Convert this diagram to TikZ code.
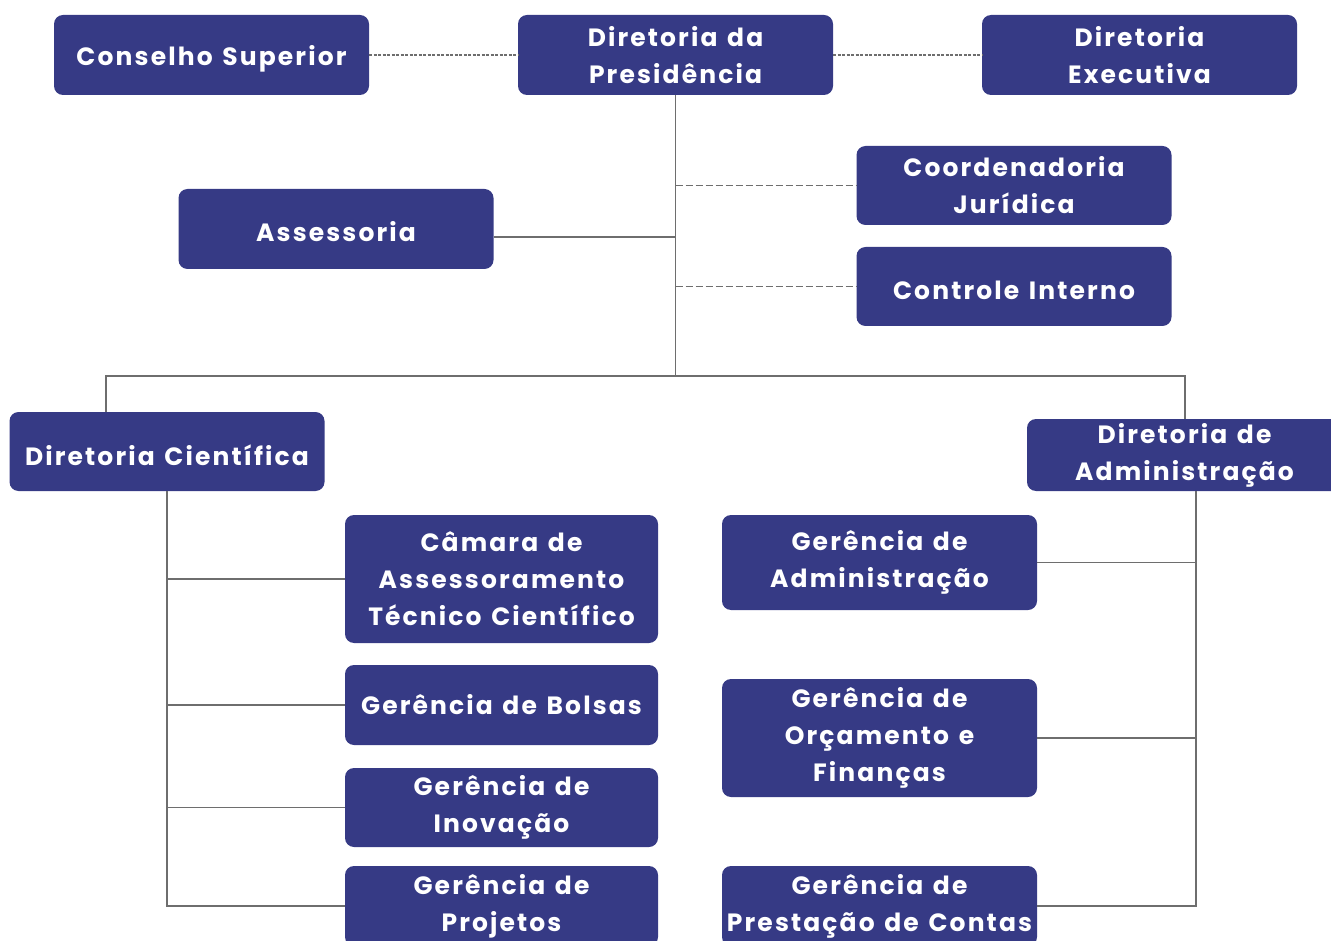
\documentclass[tikz,border=0pt]{standalone}
\usepackage{fontspec}
\newfontfamily\boxfont{Poppins}[LetterSpace=8.5,WordSpace=1.3]
\definecolor{boxblue}{RGB}{54,58,133}
\definecolor{linegray}{RGB}{110,110,110}
\newcommand{\lowtext}[2]{\raisebox{-#1}[\height][\depth]{#2}}
\begin{document}
\begin{tikzpicture}[x=1pt,y=-1pt,
  orgbox/.style={fill=boxblue, rounded corners=9pt, minimum width=315pt, minimum height=80pt,
    inner sep=0pt, text=white, align=center, font=\boxfont\bfseries\fontsize{25}{37}\selectfont},
  conn/.style={draw=linegray, line width=1.3pt},
  fdash/.style={conn, dash pattern=on 3pt off 1.5pt},
  ldash/.style={conn, dash pattern=on 7pt off 3pt}]
\useasboundingbox (0,0) rectangle (1331,941);
\node[orgbox] (cs) at (211.5,55) {\lowtext{4pt}{Conselho Superior}};
\node[orgbox] (pres) at (675.5,55) {Diretoria da\\Presidência};
\node[orgbox] (exe) at (1139.5,55) {Diretoria\\Executiva};
\node[orgbox, minimum height=79pt] (coord) at (1014,185.5) {Coordenadoria\\Jurídica};
\node[orgbox] (ass) at (336,229) {\lowtext{3pt}{Assessoria}};
\node[orgbox, minimum height=79pt] (ci) at (1014,286.5) {\lowtext{3.5pt}{Controle Interno}};
\node[orgbox, minimum height=79pt] (dc) at (167,451.5) {\lowtext{3.5pt}{Diretoria Científica}};
\node[orgbox, minimum height=72pt] (da) at (1184.5,455) {Diretoria de\\Administração};
\node[orgbox, minimum height=128pt, minimum width=313pt] (cam) at (501.5,579) {Câmara de\\Assessoramento\\Técnico Científico};
\node[orgbox, minimum width=313pt] (bol) at (501.5,705) {Gerência de Bolsas};
\node[orgbox, minimum width=313pt, minimum height=79pt] (ino) at (501.5,807.5) {Gerência de\\Inovação};
\node[orgbox, minimum width=313pt] (proj) at (501.5,906) {Gerência de\\Projetos};
\node[orgbox, minimum height=95pt] (ga) at (879.5,562.5) {Gerência de\\Administração};
\node[orgbox, minimum height=118pt] (gof) at (879.5,738) {Gerência de\\Orçamento e\\Finanças};
\node[orgbox] (gpc) at (879.5,906) {Gerência de\\Prestação de Contas};
% top row
\draw[fdash] (cs.east) -- (pres.west);
\draw[fdash] (pres.east) -- (exe.west);
% presidency trunk
\coordinate (bus) at (675.5,376);
\coordinate (bl) at (106,376);
\coordinate (br) at (1185,376);
\draw[conn] (pres.south) -- (bus);
\draw[ldash] (coord.west -| pres.south) -- (coord.west);
\draw[conn] ([yshift=-8pt]ass.east) -- ([yshift=-8pt]ass.east -| pres.south);
\draw[ldash] (ci.west -| pres.south) -- (ci.west);
\draw[conn] (bl |- dc.north) -- (bl) -- (br) -- (br |- da.north);
% cientifica
\draw[conn] (dc.south) -- (dc.south |- proj.west) -- (proj.west);
\draw[conn] (cam.west -| dc.south) -- (cam.west);
\draw[conn] (bol.west -| dc.south) -- (bol.west);
\draw[conn] (ino.west -| dc.south) -- (ino.west);
% administracao
\coordinate (av) at (1196,491);
\draw[conn] (av) -- (av |- gpc.east) -- (gpc.east);
\draw[conn] (ga.east) -- (ga.east -| av);
\draw[conn] (gof.east) -- (gof.east -| av);
\end{tikzpicture}
\end{document}
